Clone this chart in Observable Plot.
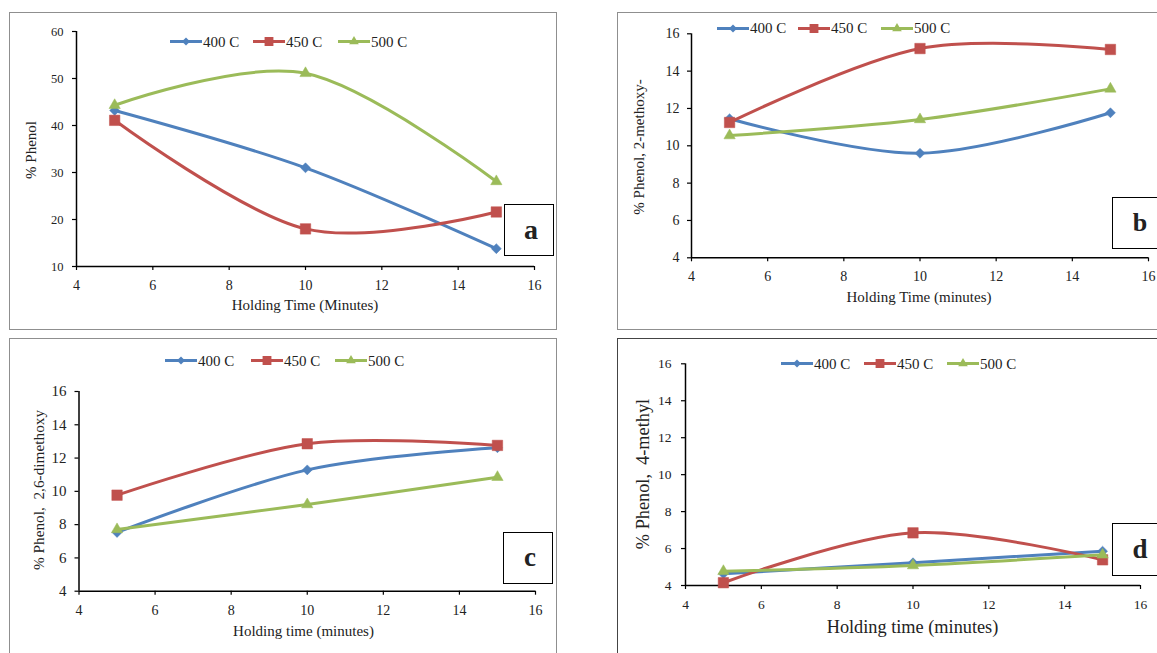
<!DOCTYPE html>
<html><head><meta charset="utf-8">
<script src="https://cdn.jsdelivr.net/npm/d3@7"></script>
<script src="https://cdn.jsdelivr.net/npm/@observablehq/plot@0.6"></script>
<style>
html,body{margin:0;padding:0;background:#fff;}
body{width:1157px;height:653px;overflow:hidden;position:relative;font-family:"Liberation Serif","Times New Roman",serif;color:#222;}
.panel{position:absolute;box-sizing:border-box;border:1.5px solid #8f8f8f;}
.plotsvg{position:absolute;overflow:visible;}
.title{position:absolute;white-space:pre;transform:translate(-50%,-50%);line-height:1;}
.ytitle{position:absolute;white-space:pre;transform:translate(-50%,-50%) rotate(-90deg);line-height:1;}
.legitem{position:absolute;display:flex;align-items:center;transform:translateY(-50%);font-size:15px;line-height:1;white-space:pre;}
.letter{position:absolute;box-sizing:border-box;border:1.4px solid #000;background:#fff;font-weight:bold;display:flex;align-items:center;justify-content:center;font-size:27px;}
</style></head><body>
<script>
// ---------- data ----------
const times = [5, 10, 15];
const series = ["400 C", "450 C", "500 C"];
const colors = ["#4F81BD", "#C0504D", "#9BBB59"];
const xTicks = [4, 6, 8, 10, 12, 14, 16];
const yTicksA = [10, 20, 30, 40, 50, 60];
const yTicksBCD = [4, 6, 8, 10, 12, 14, 16];

// panel a: % Phenol
const phenolA400 = [43.2, 31.0, 13.8];
const phenolA450 = [41.1, 18.0, 21.6];
const phenolA500 = [44.3, 51.1, 28.1];
// panel b: % Phenol, 2-methoxy-
const methoxyB400 = [11.45, 9.6, 11.77];
const methoxyB450 = [11.25, 15.21, 15.16];
const methoxyB500 = [10.55, 11.41, 13.05];
// panel c: % Phenol, 2,6-dimethoxy
const dimethoxyC400 = [7.53, 11.29, 12.62];
const dimethoxyC450 = [9.77, 12.86, 12.76];
const dimethoxyC500 = [7.71, 9.21, 10.85];
// panel d: % Phenol, 4-methyl
const methylD400 = [4.63, 5.23, 5.86];
const methylD450 = [4.15, 6.85, 5.39];
const methylD500 = [4.77, 5.08, 5.66];

const xTitles = ["Holding Time (Minutes)", "Holding Time (minutes)", "Holding time (minutes)", "Holding time (minutes)"];
const yTitles = ["% Phenol", "% Phenol, 2-methoxy-", "% Phenol,  2,6-dimethoxy", "% Phenol,  4-methyl"];
const letters = ["a", "b", "c", "d"];

// ---------- layout ----------
const FONT = "Liberation Serif, Times New Roman, serif";
const markerSymbols = ["diamond2", "square", "triangle"];
const markerR = [4.5, 5.9, 4.2];
const legendSymbols = [d3.symbolDiamond2, d3.symbolSquare, d3.symbolTriangle];
const legendSizes = [42, 78, 40];

const panels = [
  {values: [phenolA400, phenolA450, phenolA500], yDomain: [10, 60], yTicks: yTicksA,
   box: {x: 9, y: 12, w: 548, h: 318}, frame: {x0: 76, x1: 534, y0: 31, y1: 266},
   xFont: 14, yFont: 12.5, yPad: 13, border: "#8f8f8f",
   legend: {y: 41.5, xs: [170, 253, 338]},
   xt: {x: 305, y: 305, f: 15}, yt: {x: 31, y: 150, f: 15},
   lb: {x: 504, y: 204, w: 50, h: 52, f: 28}},
  {values: [methoxyB400, methoxyB450, methoxyB500], yDomain: [4, 16], yTicks: yTicksBCD,
   box: {x: 617, y: 12, w: 560, h: 318}, frame: {x0: 691, x1: 1148, y0: 33.3, y1: 257.3},
   xFont: 14, yFont: 14, yPad: 12, border: "#8f8f8f",
   legend: {y: 28, xs: [717, 798, 881]},
   xt: {x: 919, y: 296.5, f: 15}, yt: {x: 639, y: 147, f: 15},
   lb: {x: 1112, y: 197, w: 52, h: 52, f: 26}},
  {values: [dimethoxyC400, dimethoxyC450, dimethoxyC500], yDomain: [4, 16], yTicks: yTicksBCD,
   box: {x: 9, y: 338, w: 548, h: 330}, frame: {x0: 78.5, x1: 535, y0: 391, y1: 590.7},
   xFont: 14, yFont: 15, yPad: 12.5, border: "#8f8f8f",
   legend: {y: 360.5, xs: [165, 251, 335]},
   xt: {x: 303.5, y: 631, f: 15}, yt: {x: 38.5, y: 490, f: 15.3},
   lb: {x: 503, y: 531.5, w: 50, h: 52, f: 27}},
  {values: [methylD400, methylD450, methylD500], yDomain: [4, 16], yTicks: yTicksBCD,
   box: {x: 617, y: 338, w: 560, h: 330}, frame: {x0: 685, x1: 1140, y0: 363.3, y1: 585},
   xFont: 13.5, yFont: 13.5, yPad: 14, border: "#444",
   legend: {y: 363.5, xs: [781, 864, 947]},
   xt: {x: 912.5, y: 627, f: 18.3}, yt: {x: 642.5, y: 474, f: 18.3},
   lb: {x: 1112, y: 523, w: 52, h: 53, f: 27}}
];

function el(tag, cls, css, text) {
  const e = document.createElement(tag);
  if (cls) e.className = cls;
  Object.assign(e.style, css || {});
  if (text != null) e.textContent = text;
  document.body.appendChild(e);
  return e;
}

panels.forEach((p, k) => {
  el("div", "panel", {left: p.box.x + "px", top: p.box.y + "px", width: p.box.w + "px", height: p.box.h + "px", borderColor: p.border});

  const yMin = p.yDomain[0];
  const data = series.flatMap((s, i) => times.map((t, j) => ({series: s, t, v: p.values[i][j]})));
  const marks = [
    Plot.axisX({ticks: xTicks, tickSize: 4, tickFormat: () => "", label: null, stroke: "#000", strokeWidth: 1.2}),
    Plot.axisY({ticks: p.yTicks, tickSize: 4, tickFormat: () => "", label: null, stroke: "#000", strokeWidth: 1.2}),
    Plot.text(xTicks, {x: d => d, y: () => yMin, text: d => String(d), dy: 13.5, lineAnchor: "top", textAnchor: "middle",
      fontSize: p.xFont, fontFamily: FONT, fill: "#222"}),
    Plot.text(p.yTicks, {x: () => 4, y: d => d, text: d => String(d), dx: -p.yPad, textAnchor: "end", lineAnchor: "middle",
      fontSize: p.yFont, fontFamily: FONT, fill: "#222"}),
    Plot.ruleY([yMin], {stroke: "#000", strokeWidth: 1.5}),
    Plot.ruleX([4], {stroke: "#000", strokeWidth: 1.5})
  ];
  series.forEach((s, i) => {
    const d = data.filter(r => r.series === s);
    marks.push(Plot.line(d, {x: "t", y: "v", stroke: colors[i], strokeWidth: 3, curve: "cardinal"}));
    marks.push(Plot.dot(d, {x: "t", y: "v", symbol: markerSymbols[i], r: markerR[i], fill: colors[i], stroke: colors[i], strokeWidth: 0.5}));
  });
  const svg = Plot.plot({
    width: p.box.w, height: p.box.h,
    marginLeft: p.frame.x0 - p.box.x,
    marginRight: p.box.x + p.box.w - p.frame.x1,
    marginTop: p.frame.y0 - p.box.y,
    marginBottom: p.box.y + p.box.h - p.frame.y1,
    x: {domain: [4, 16]},
    y: {domain: p.yDomain},
    style: {fontFamily: FONT, color: "#222", background: "transparent", overflow: "visible"},
    marks
  });
  svg.classList.add("plotsvg");
  svg.style.left = p.box.x + "px";
  svg.style.top = p.box.y + "px";
  document.body.appendChild(svg);

  series.forEach((s, i) => {
    const item = el("div", "legitem", {left: p.legend.xs[i] + "px", top: p.legend.y + "px"});
    const ns = "http://www.w3.org/2000/svg";
    const sw = document.createElementNS(ns, "svg");
    sw.setAttribute("width", 32); sw.setAttribute("height", 14);
    const ln = document.createElementNS(ns, "line");
    ln.setAttribute("x1", 0); ln.setAttribute("x2", 32); ln.setAttribute("y1", 7); ln.setAttribute("y2", 7);
    ln.setAttribute("stroke", colors[i]); ln.setAttribute("stroke-width", 3);
    sw.appendChild(ln);
    const mk = document.createElementNS(ns, "path");
    mk.setAttribute("d", d3.symbol().type(legendSymbols[i]).size(legendSizes[i])());
    mk.setAttribute("transform", "translate(16,7)");
    mk.setAttribute("fill", colors[i]);
    sw.appendChild(mk);
    item.appendChild(sw);
    const tx = document.createElement("span");
    tx.textContent = s;
    tx.style.marginLeft = "1px";
    item.appendChild(tx);
  });

  el("div", "title", {left: p.xt.x + "px", top: p.xt.y + "px", fontSize: p.xt.f + "px"}, xTitles[k]);
  el("div", "ytitle", {left: p.yt.x + "px", top: p.yt.y + "px", fontSize: p.yt.f + "px"}, yTitles[k]);

  el("div", "letter", {left: p.lb.x + "px", top: p.lb.y + "px", width: p.lb.w + "px", height: p.lb.h + "px", fontSize: p.lb.f + "px", paddingLeft: "4px"}, letters[k]);
});
</script>
</body></html>
